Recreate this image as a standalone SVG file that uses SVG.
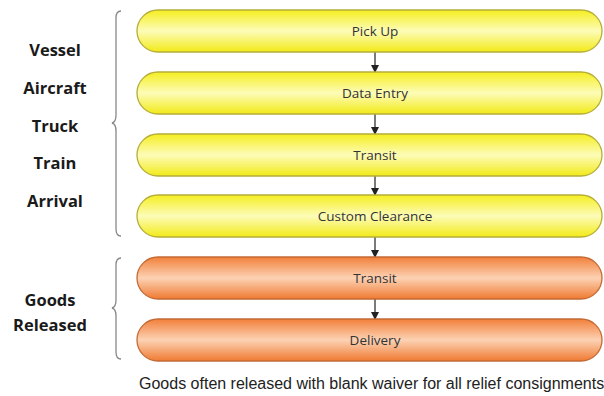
<svg xmlns="http://www.w3.org/2000/svg" width="604" height="396" viewBox="0 0 604 396">
<defs>
<linearGradient id="gy" x1="0" y1="0" x2="0" y2="1">
<stop offset="0" stop-color="#f5ee20"/>
<stop offset="0.5" stop-color="#fdfcb8"/>
<stop offset="1" stop-color="#f2ea18"/>
</linearGradient>
<linearGradient id="go" x1="0" y1="0" x2="0" y2="1">
<stop offset="0" stop-color="#f2803a"/>
<stop offset="0.5" stop-color="#fcd2b4"/>
<stop offset="1" stop-color="#f07a32"/>
</linearGradient>
<marker id="ah" markerWidth="8" markerHeight="8" refX="7" refY="4" orient="auto" markerUnits="userSpaceOnUse">
<path d="M0,0 L8,4 L0,8 Z" fill="#222"/>
</marker>
</defs>
<style>
.y{fill:url(#gy);stroke:#b5ad3a;stroke-width:1.3}
.o{fill:url(#go);stroke:#c46a34;stroke-width:1.3}
.t{font-family:"Open Sans","Liberation Sans",sans-serif;font-size:13.5px;fill:#333;text-anchor:middle}
.l{font-family:"Open Sans","Liberation Sans",sans-serif;font-size:16.5px;font-weight:bold;fill:#1a1a1a;text-anchor:middle}
.c{stroke:#222;stroke-width:1.2;fill:none;marker-end:url(#ah)}
.b{stroke:#888;stroke-width:1.3;fill:none}
</style>
<rect width="604" height="396" fill="#fff"/>
<g id="labels">
<text class="l" x="55" y="56">Vessel</text>
<text class="l" x="55" y="94">Aircraft</text>
<text class="l" x="55" y="132">Truck</text>
<text class="l" x="55" y="169">Train</text>
<text class="l" x="55" y="207">Arrival</text>
<text class="l" x="50" y="306">Goods</text>
<text class="l" x="50" y="331">Released</text>
</g>
<g id="braces">
<path class="b" d="M121,11 Q116,11 116,18 L116,115 Q116,122 112,123 Q116,124 116,131 L116,229 Q116,236 121,236"/>
<path class="b" d="M121,258 Q116,258 116,265 L116,300 Q116,307 112,308 Q116,309 116,316 L116,352 Q116,359 121,359"/>
</g>
<g id="connectors">
<line class="c" x1="375" y1="52" x2="375" y2="72"/>
<line class="c" x1="375" y1="114" x2="375" y2="134"/>
<line class="c" x1="375" y1="176" x2="375" y2="195"/>
<line class="c" x1="375" y1="237" x2="375" y2="257"/>
<line class="c" x1="375" y1="299" x2="375" y2="319"/>
</g>
<g id="n1"><rect class="y" x="137" y="10" width="465" height="42" rx="21"/><text class="t" x="375" y="36">Pick Up</text></g>
<g id="n2"><rect class="y" x="137" y="72" width="465" height="42" rx="21"/><text class="t" x="375" y="98">Data Entry</text></g>
<g id="n3"><rect class="y" x="137" y="134" width="465" height="42" rx="21"/><text class="t" x="375" y="160">Transit</text></g>
<g id="n4"><rect class="y" x="137" y="195" width="465" height="42" rx="21"/><text class="t" x="375" y="221">Custom Clearance</text></g>
<g id="n5"><rect class="o" x="137" y="257" width="465" height="42" rx="21"/><text class="t" x="375" y="283">Transit</text></g>
<g id="n6"><rect class="o" x="137" y="319" width="465" height="42" rx="21"/><text class="t" x="375" y="345">Delivery</text></g>
<text x="139" y="389" font-family="'Liberation Sans',Arial,sans-serif" font-size="16" fill="#222">Goods often released with blank waiver for all relief consignments</text>
</svg>
